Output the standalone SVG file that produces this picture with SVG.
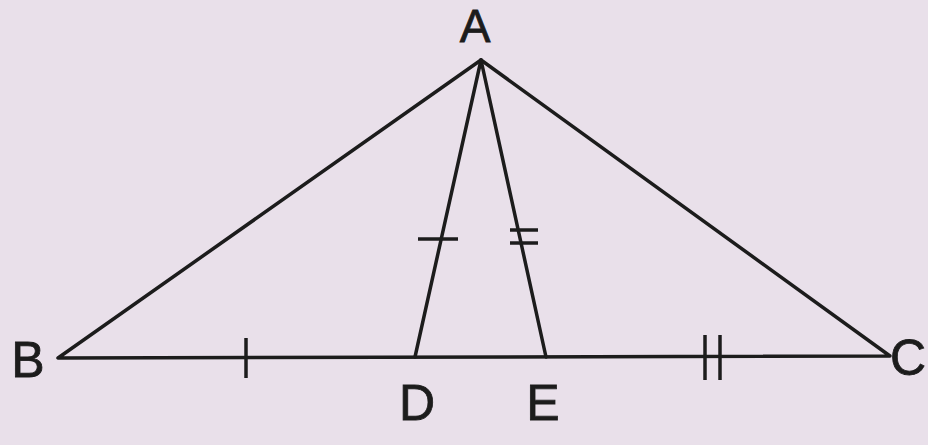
<svg xmlns="http://www.w3.org/2000/svg" width="928" height="445" viewBox="0 0 928 445">
<style>
.ln{stroke:#1c1c1c;stroke-width:3.5;fill:none;stroke-linecap:round;stroke-linejoin:round}
.tk{stroke:#1c1c1c;stroke-width:3.5;fill:none}
.lb{font-family:"Liberation Sans",Arial,sans-serif;font-size:50px;fill:#1c1c1c;stroke:#1c1c1c;stroke-width:0.8}
</style>
<rect x="0" y="0" width="928" height="445" fill="#e9e0ea"/>
<g id="connectors">
<path class="ln" d="M481,60 L58,358 L890,356 Z"/>
<line class="ln" x1="481" y1="60" x2="415" y2="357"/>
<line class="ln" x1="481" y1="60" x2="546" y2="357"/>
<line class="tk" x1="418" y1="239" x2="458" y2="239"/>
<line class="tk" x1="510" y1="230" x2="538" y2="230"/>
<line class="tk" x1="510" y1="243" x2="538" y2="243"/>
<line class="tk" x1="246" y1="338" x2="246" y2="378"/>
<line class="tk" x1="705" y1="335" x2="705" y2="380"/>
<line class="tk" x1="720" y1="335" x2="720" y2="380"/>
</g>
<g id="A"><text class="lb" x="475" y="42" text-anchor="middle" style="font-size:46px">A</text></g>
<g id="B"><text class="lb" x="28" y="377" text-anchor="middle">B</text></g>
<g id="C"><text class="lb" x="926" y="375" text-anchor="end">C</text></g>
<g id="D"><text class="lb" x="417" y="420" text-anchor="middle">D</text></g>
<g id="E"><text class="lb" x="543" y="420" text-anchor="middle">E</text></g>
</svg>
